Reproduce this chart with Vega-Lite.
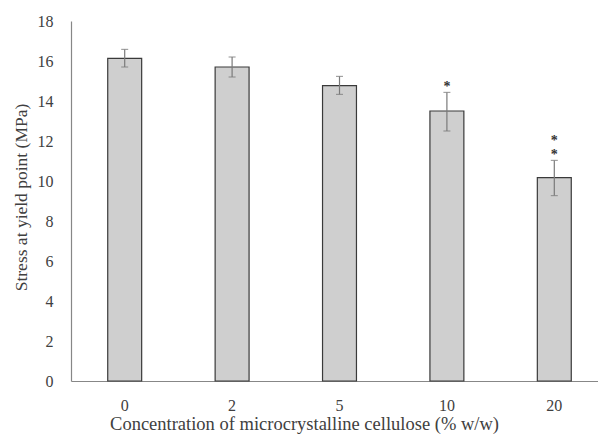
{
  "$schema": "https://vega.github.io/schema/vega-lite/v6.json",
  "width": 537,
  "height": 360,
  "autosize": {"type": "none"},
  "padding": {"left": 71, "top": 21, "right": 0, "bottom": 60},
  "background": "white",
  "config": {
    "view": {"stroke": null},
    "font": "Liberation Serif",
    "axis": {"grid": false, "ticks": false, "domainColor": "#878787", "domainWidth": 1.2, "labelColor": "#404040", "titleColor": "#404040", "labelFont": "Liberation Serif", "titleFont": "Liberation Serif", "labelFontSize": 16, "titleFontWeight": "normal", "labelOverlap": false, "labelBound": false, "labelFlush": false}
  },
  "data": {
    "values": [
      {"conc": "0", "mean": 16.13, "lo": 15.7, "hi": 16.58, "stars": 0},
      {"conc": "2", "mean": 15.7, "lo": 15.2, "hi": 16.2, "stars": 0},
      {"conc": "5", "mean": 14.77, "lo": 14.33, "hi": 15.23, "stars": 0},
      {"conc": "10", "mean": 13.5, "lo": 12.5, "hi": 14.43, "stars": 1},
      {"conc": "20", "mean": 10.17, "lo": 9.27, "hi": 11.03, "stars": 2}
    ]
  },
  "encoding": {
    "x": {
      "field": "conc", "type": "nominal", "sort": null,
      "scale": {"paddingInner": 0.684, "paddingOuter": 0.342},
      "axis": {"title": "Concentration of microcrystalline cellulose (% w/w)", "titleFontSize": 18.5, "labelAngle": 0, "labelPadding": 16, "titleX": 233, "titleY": 42, "titleBaseline": "middle", "titleAnchor": null, "titleAlign": "center"}
    }
  },
  "layer": [
    {
      "mark": {"type": "bar", "fill": "#cfcfcf", "stroke": "#3a3a3a", "strokeWidth": 1.2},
      "encoding": {
        "y": {"field": "mean", "type": "quantitative", "scale": {"domain": [0, 18]},
          "axis": {"title": "Stress at yield point (MPa)", "titleFontSize": 17.5, "values": [0, 2, 4, 6, 8, 10, 12, 14, 16, 18], "labelOverlap": false, "labelPadding": 18, "titleX": -50, "titleY": 176, "titleBaseline": "middle", "titleAngle": -90, "titleAlign": "center"}}
      }
    },
    {
      "mark": {"type": "rule", "color": "#7a7a7a", "strokeWidth": 1.2},
      "encoding": {"y": {"field": "lo", "type": "quantitative",
          "axis": {"title": "Stress at yield point (MPa)", "titleFontSize": 17.5, "values": [0, 2, 4, 6, 8, 10, 12, 14, 16, 18], "labelOverlap": false, "labelPadding": 18, "titleX": -50, "titleY": 176, "titleBaseline": "middle", "titleAngle": -90, "titleAlign": "center"}}, "y2": {"field": "hi"}}
    },
    {
      "mark": {"type": "tick", "color": "#7a7a7a", "size": 7, "thickness": 1.2},
      "encoding": {"y": {"field": "lo", "type": "quantitative",
          "axis": {"title": "Stress at yield point (MPa)", "titleFontSize": 17.5, "values": [0, 2, 4, 6, 8, 10, 12, 14, 16, 18], "labelOverlap": false, "labelPadding": 18, "titleX": -50, "titleY": 176, "titleBaseline": "middle", "titleAngle": -90, "titleAlign": "center"}}}
    },
    {
      "mark": {"type": "tick", "color": "#7a7a7a", "size": 7, "thickness": 1.2},
      "encoding": {"y": {"field": "hi", "type": "quantitative",
          "axis": {"title": "Stress at yield point (MPa)", "titleFontSize": 17.5, "values": [0, 2, 4, 6, 8, 10, 12, 14, 16, 18], "labelOverlap": false, "labelPadding": 18, "titleX": -50, "titleY": 176, "titleBaseline": "middle", "titleAngle": -90, "titleAlign": "center"}}}
    },
    {
      "transform": [{"filter": "datum.stars >= 1"}],
      "mark": {"type": "text", "text": "*", "baseline": "bottom", "dy": 2, "fontSize": 14, "fontWeight": "bold", "color": "#333333"},
      "encoding": {"y": {"field": "hi", "type": "quantitative",
          "axis": {"title": "Stress at yield point (MPa)", "titleFontSize": 17.5, "values": [0, 2, 4, 6, 8, 10, 12, 14, 16, 18], "labelOverlap": false, "labelPadding": 18, "titleX": -50, "titleY": 176, "titleBaseline": "middle", "titleAngle": -90, "titleAlign": "center"}}}
    },
    {
      "transform": [{"filter": "datum.stars >= 2"}],
      "mark": {"type": "text", "text": "*", "baseline": "bottom", "dy": -12.6, "fontSize": 14, "fontWeight": "bold", "color": "#333333"},
      "encoding": {"y": {"field": "hi", "type": "quantitative",
          "axis": {"title": "Stress at yield point (MPa)", "titleFontSize": 17.5, "values": [0, 2, 4, 6, 8, 10, 12, 14, 16, 18], "labelOverlap": false, "labelPadding": 18, "titleX": -50, "titleY": 176, "titleBaseline": "middle", "titleAngle": -90, "titleAlign": "center"}}}
    }
  ]
}
